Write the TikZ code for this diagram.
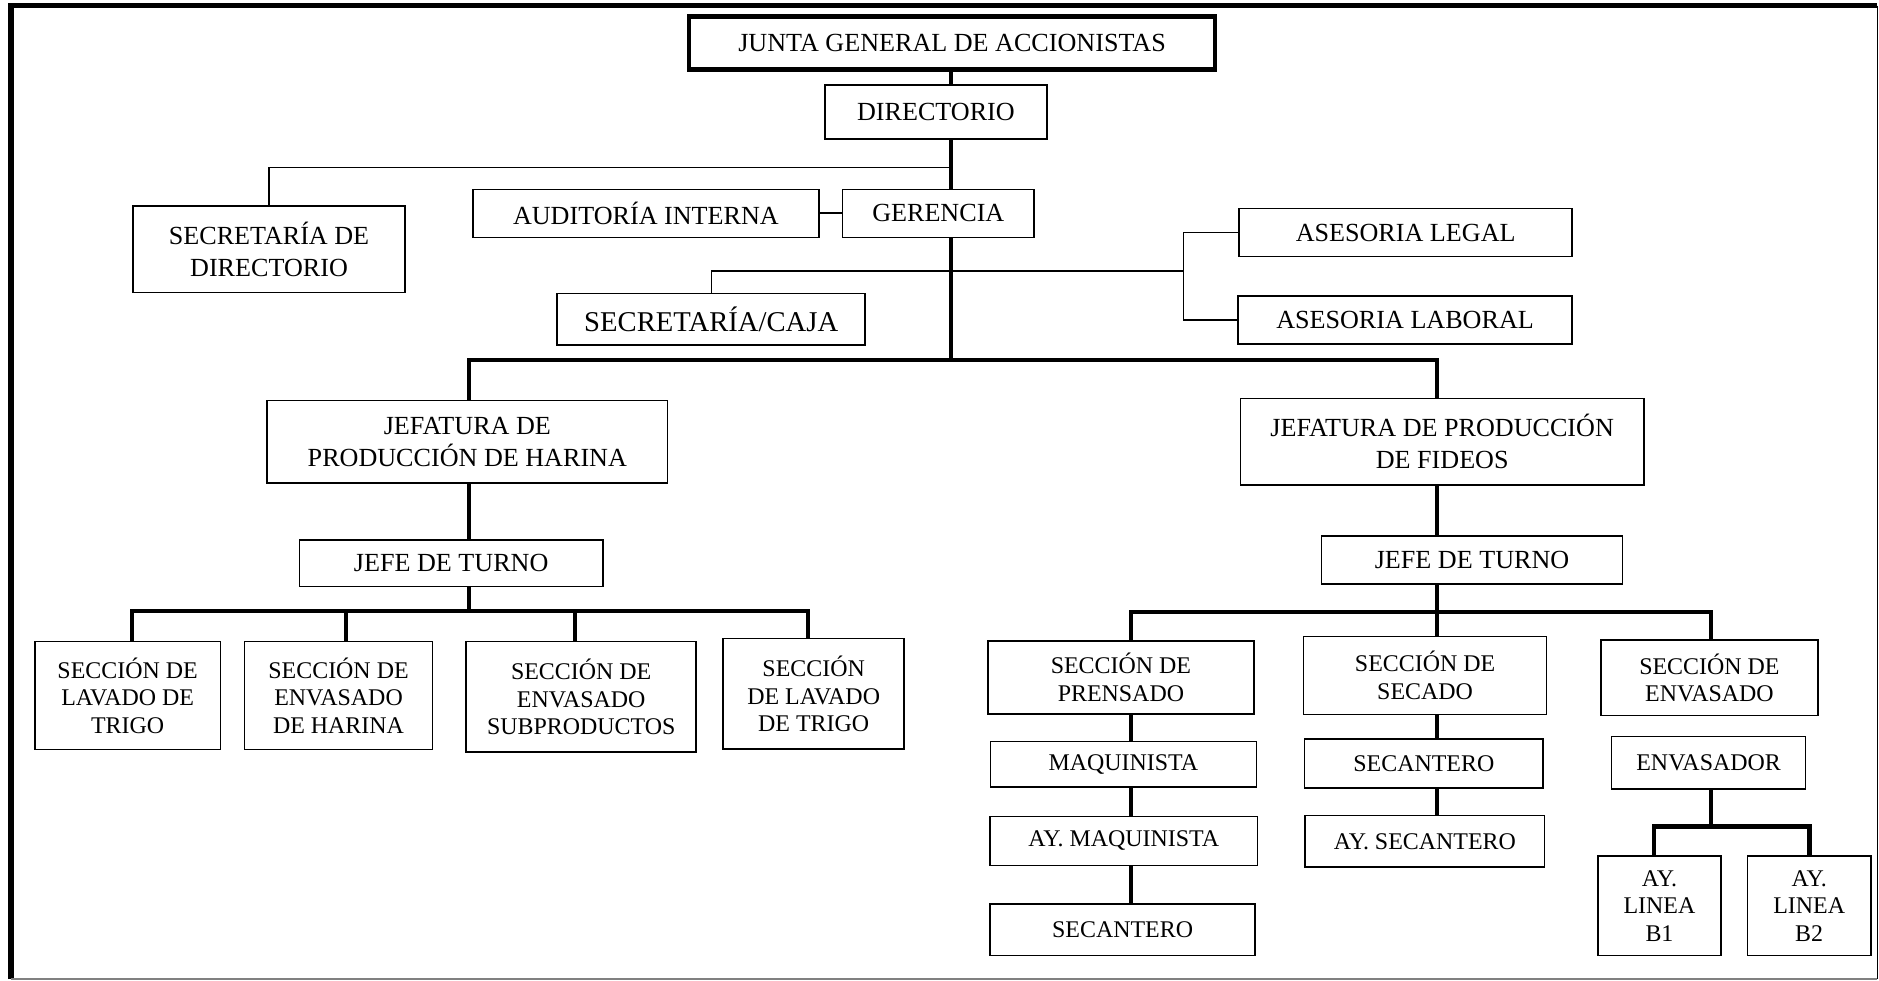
\documentclass[tikz,border=0pt]{standalone}
\usepackage{fontspec}
\setmainfont{Liberation Serif}
\tikzset{
    box/.style = {rectangle, draw=black, line width=0.9pt, align=center, inner sep=0pt, font=\fontsize{15.5}{19}\selectfont},
    boxs/.style = {box, font=\fontsize{14.2}{16.4}\selectfont},
    boxj/.style = {box, line width=2.8pt},
    sz/.style 2 args = {minimum width=#1*0.025cm, minimum height=#2*0.025cm},
    edgek/.style = {line width=2.4pt}, % main lines
    edgem/.style = {line width=1.3pt},
    edgel/.style = {line width=0.8pt}, % staff lines
}
\begin{document}
\begin{tikzpicture}[x=0.025cm, y=-0.025cm]
\useasboundingbox (0,0) rectangle (1568,818);

% frame
\draw[line width=3pt] (9.2,817) -- (9.2,4.6) -- (1566.4,4.6);
\draw[line width=0.6pt] (1566.4,4.6) -- (1566.4,817);
\draw[line width=0.8pt, gray] (9.2,817) -- (1566.4,817);

\node[boxj, sz={439}{44}] at ( 794.5,  36.0) (junta) {JUNTA GENERAL DE ACCIONISTAS};
\node[box, sz={185}{45}] at ( 781.0,  93.5) (dir) {DIRECTORIO};
\node[box, sz={227}{72}] at ( 224.5, 208.0) (sd) {SECRETARÍA DE\\DIRECTORIO};
\node[box, sz={289}{40}] at ( 539.0, 178.0) (aud) {AUDITORÍA INTERNA};
\node[box, sz={160}{40}] at ( 783.0, 178.0) (ger) {GERENCIA};
\node[box, sz={257}{43}, font=\fontsize{17}{20}\selectfont] at ( 593.5, 266.5) (caja) {SECRETARÍA/CAJA};
\node[box, sz={278}{40}] at (1173.0, 194.0) (legal) {ASESORIA LEGAL};
\node[box, sz={279}{40}] at (1172.5, 267.0) (laboral) {ASESORIA LABORAL};

\node[box, sz={334}{69}] at ( 390.0, 368.7) (jh) {JEFATURA DE\\PRODUCCIÓN DE HARINA};
\node[box, sz={253}{39}] at ( 376.5, 470.0) (th) {JEFE DE TURNO};
\node[boxs, sz={155}{90}] at ( 106.5, 580.4) (sh1) {SECCIÓN DE\\LAVADO DE\\TRIGO};
\node[boxs, sz={157}{90}] at ( 282.5, 580.4) (sh2) {SECCIÓN DE\\ENVASADO\\DE HARINA};
\node[boxs, sz={192}{92}] at ( 485.0, 581.5) (sh3) {SECCIÓN DE\\ENVASADO\\SUBPRODUCTOS};
\node[boxs, sz={151}{92}] at ( 679.0, 579.0) (sh4) {SECCIÓN\\DE LAVADO\\DE TRIGO};

\node[box, sz={337}{72}] at (1203.5, 368.6) (jf) {JEFATURA DE PRODUCCIÓN\\DE FIDEOS};
\node[box, sz={251}{40}] at (1228.4, 467.2) (tf) {JEFE DE TURNO};
\node[boxs, sz={222}{61}] at ( 935.4, 565.4) (pr) {SECCIÓN DE\\PRENSADO};
\node[boxs, sz={203}{65}] at (1189.2, 563.7) (se) {SECCIÓN DE\\SECADO};
\node[boxs, sz={181}{63}] at (1426.5, 565.6) (en) {SECCIÓN DE\\ENVASADO};
\node[boxs, sz={222}{38}] at ( 937.4, 637.6) (mq) {MAQUINISTA};
\node[boxs, sz={223}{41}] at ( 937.8, 701.8) (amq) {AY. MAQUINISTA};
\node[boxs, sz={221}{43}] at ( 936.8, 775.8) (sc1) {SECANTERO};
\node[boxs, sz={199}{41}] at (1188.2, 637.0) (sc2) {SECANTERO};
\node[boxs, sz={200}{43}] at (1189.0, 702.0) (asc) {AY. SECANTERO};
\node[boxs, sz={162}{44}] at (1425.8, 636.6) (ev) {ENVASADOR};
\node[boxs, sz={103}{83}] at (1384.8, 756.0) (b1) {AY.\\LINEA\\B1};
\node[boxs, sz={103}{83}] at (1509.7, 756.0) (b2) {AY.\\LINEA\\B2};

\coordinate (ta) at ( 793.5, 140.0);
\coordinate (tc) at ( 987.5, 226.0);
\coordinate (bm) at ( 793.5, 300.5);
\coordinate (bl) at ( 391.0, 300.5);
\coordinate (br) at (1199.0, 300.5);
\coordinate (h1) at ( 110.0, 510.0);
\coordinate (h2) at ( 289.0, 510.0);
\coordinate (h3) at ( 480.0, 510.0);
\coordinate (h4) at ( 674.0, 510.0);
\coordinate (f1) at ( 944.0, 510.5);
\coordinate (f2) at (1199.0, 510.5);
\coordinate (f3) at (1427.5, 510.5);
\coordinate (bb) at (1427.5, 689.7);
\coordinate (g1) at (1380.0, 689.7);
\coordinate (g2) at (1510.0, 689.7);

\draw[edgek] (ta |- junta.south) -- (ta |- dir.north);
\draw[edgek] (ta |- dir.south) -- (ta |- ger.north);
\draw[edgel] (ta) -| (sd.north);
\draw[edgem] (aud.east) -- (ger.west);
\draw[edgek] (ta |- ger.south) -- (bm);
\draw[edgel] (caja.north) |- (tc);
\draw[edgel] (legal.west) -| (tc) |- (laboral.west);
\draw[edgek] (bl |- jh.north) -- (bl) -- (br) -- (br |- jf.north);

\draw[edgek] (bl |- jh.south) -- (bl |- th.north);
\draw[edgek] (bl |- th.south) -- (bl |- h1);
\draw[edgek] (h1 |- sh1.north) -- (h1) -- (h4) -- (h4 |- sh4.north);
\draw[edgek] (h2) -- (h2 |- sh2.north);
\draw[edgek] (h3) -- (h3 |- sh3.north);

\draw[edgek] (br |- jf.south) -- (br |- tf.north);
\draw[edgek] (br |- tf.south) -- (f2);
\draw[edgek] (f1 |- pr.north) -- (f1) -- (f3) -- (f3 |- en.north);
\draw[edgek] (f2) -- (f2 |- se.north);
\draw[edgek] (f1 |- pr.south) -- (f1 |- mq.north);
\draw[edgek] (f1 |- mq.south) -- (f1 |- amq.north);
\draw[edgek] (f1 |- amq.south) -- (f1 |- sc1.north);
\draw[edgek] (f2 |- se.south) -- (f2 |- sc2.north);
\draw[edgek] (f2 |- sc2.south) -- (f2 |- asc.north);
\draw[edgek] (f3 |- ev.south) -- (bb);
\draw[edgek] (g1 |- b1.north) -- (g1) -- (g2) -- (g2 |- b2.north);

\end{tikzpicture}
\end{document}
